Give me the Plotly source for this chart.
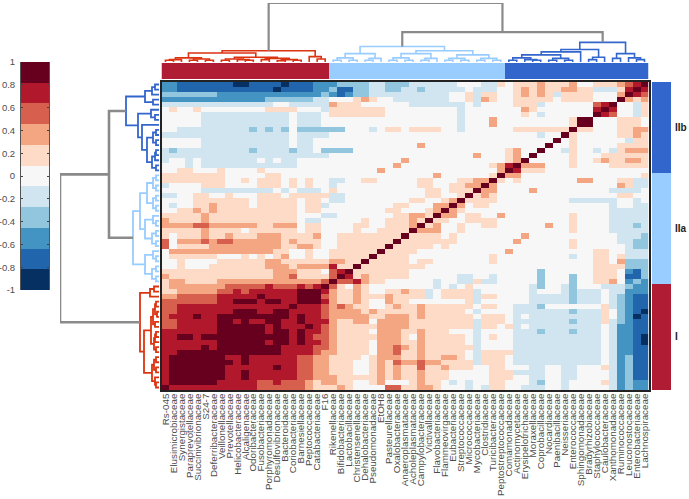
import plotly.graph_objects as go

W, H = 689, 499

FAMILIES = ["Rs-045","Elusimicrobiaceae","Synergistaceae","Paraprevotellaceae","Succinivibrionaceae","S24-7",
"Deferribacteraceae","Veillonellaceae","Prevotellaceae","Helicobacteraceae","Alcaligenaceae","Odoribacteraceae",
"Fusobacteriaceae","Porphyromonadaceae","Desulfovibrionaceae","Bacteroidaceae","Coriobacteriaceae","Barnesiellaceae",
"Peptococcaceae","Catabacteriaceae","F16","Rikenellaceae","Bifidobacteriaceae","Lactobacillaceae","Christensenellaceae",
"Dehalobacteriaceae","Pseudomonadaceae","EtOH8","Pasteurellaceae","Oxalobacteraceae","Anaeroplasmataceae",
"Acholeplasmataceae","Campylobacteraceae","Victivallaceae","Flavobacteriaceae","Flammeovirgaceae","Eubacteriaceae",
"Streptococcaceae","Micrococcaceae","Mycobacteriaceae","Clostridiaceae","Turicibacteraceae","Peptostreptococcaceae",
"Comamonadaceae","Actinomycetaceae","Erysipelotrichaceae","Moraxellaceae","Coprobacillaceae","Nocardiaceae",
"Paenibacillaceae","Neisseriaceae","Enterococcaceae","Sphingomonadaceae","Bradyrhizobiaceae","Staphylococcaceae",
"Caulobacteraceae","Xanthomonadaceae","Ruminococcaceae","Leuconostocaceae","Enterobacteriaceae","Lachnospiraceae"]

# colour-bin level per cell of the lower-left triangle (0..9, X=10), top row of the picture first
LEVEL_ROWS = [
"22 1111111 00 1111 0 111 222 3333 44 333 444444 555 44 6 5 666 7 666 7 55 666 7 8 9",
"22 111111111111 0 1111 22 3 11 33 44 33 44 3 44444 54 44 5 5 6 7 6 7 66 77 66 444 6 9",
"3333333 2222222222222 3 2 1 2 33 4444444444 55 6 4 66 5 5 6 7 6 7 6 4 6666 555 7",
"2222222222222 333333 44 555 676 55 4 444444 55 6 4 5 6 55 66666 5 6666 555",
"44444444444444 55 44444 7 666 55 5555 4444444 5 4 55 5 5 6664 555555 89",
"5 6 55 6 55555555 6666 555 4 6666666 555555555 4 555555 5 7 6 5555555 9",
"55555 44444444444 5 444 5 6666666 555555555 4 5555555 6 5 4 555555",
"55555 44444444444 5 444 5 5555555555555555 4 5555555555555 6 X",
"55555 44444444444 5 444 5 5555555555555555 4 5555555555555 6",
"55 444444444 3 4 3 4 3 5 333333 555 4 5 66 5 6666 55 4 555555 6666666",
"4444444444444444 5 4444 5555555555 5555555555 555555 4 55",
"55555 44444444444 5 44 55 5555555555 5555555555 55555555",
"55555 44444444444 5 44 55 5555555555 5555555555 5555555",
"4 3 444444444 3 4444 3 44 5 3333 5555555555 555555555 6 7 55",
"4444444444 4444444444 4 5555555555 5555555555 55 6 7 5",
"4 55 4 5 4444444 5 4 5 44 5555 5555555555 5555555555 55 6 7",
"55545 444444444444 5555 5555555555 5555555555 6 7 9",
"55 66 555 6 5555 6 5555555555 5555555555 555555555 7",
"66666666 55555 66 5555555555 5555555555 555555 6",
"66666666 55 6 5 666 5 6 5 6 55 44 55665555566555 6677",
"4 5555 666 5555 666 5 6 5 6 55 4 5555555555 66 55 66 77",
"55555 444444444 5 4 5 444 5 6 55555555555 66 5 666",
"44 55 66 55 6 555 666 5 66666 44 5555555555 66 5 5 6 6 6",
"5555 6666666 5 66666 5 66 5 44 55555555 66 55 6 7",
"5 4 55 66 7 6666 5 66666 5 66 4 5 5555555 66 555 77",
"55 66 7 6 7 6666666666 5 66 5 5 5555556655567",
"66666 7 66666666666 5 55 44 555555566776",
"7 6666 7 66666666666 5 44 55 55565566676",
"7777 88 777777 66 777 5 66 55 5566556667",
"66666 7 6666 5 666666 5 66 55 556556666",
"6 5 666 7 66 7 666 777 6666 7 55 66666666",
"8 5 777 8 7 88 777777 6 7 666 55 6666666",
"8 5 6666 777777777 66 77 6 55 666666",
"5 7777777777777 66 55 6 55 666666",
"5 666666 555 6 5 6 5 6 7 55 6 55 66666",
"55 6 5555 666666 77 66 6666 77 66",
"55 6 555 6666666 777 6 7777 9 6 6",
"66666666666666 777 666 5 8 9",
"7 666666 6666666 77 8 6666 8",
"6 77 6666 777777 7777 777 8",
"6 7777777 88888 9 888 9 8 9",
"66 77777 88 9 89 9 9999 XX",
"77 88888 99 999 X 9999 X",
"88 88888 99 XXX 9 XX 99",
"88 9999999 9999999",
"88 9999999 XXX 99 X",
"8 999 X 99 XXXXXXX",
"88 99999 XX 9 X 99",
"88 99999 XXXXX",
"9999999 XXXX",
"99 XX 9 XX XXX",
"9999999 XX",
"99999 X 9 X",
"99 XXXXX",
"9 XXXXX",
"9 XXXX",
"9 XXX",
"9 XX",
"9 X",
"9",
"",
]
# isolated stronger cells: (row, column, level)
SPOT_CELLS = [(53,41,7),(52,41,7),(57,40,7),(46,39,7),(48,32,7),(45,30,7),(44,29,7),(43,27,7),(42,34,7)]

# merge trees: [merge height, child, child]; a plain number is a family's index
CLUSTER_I = [19,
    [15,
        [7, [4, [3, 0, 1], 2], [5, [3, 3, 4], [3, 5, 6]]],
        [8, [5, [3, 7, 8], [4, 9, [3, 10, 11]]], [6, [4, 12, 13], [4, [2, 14, 15], [3, 16, 17]]]]],
    [9, 18, [5, 19, 20]]]
CLUSTER_IIA = [26,
    [14, [7, [3, 21, 22], [3, 23, 24]], [6, [3, 25, 26], 27]],
    [19,
        [14, [7, [3, 28, 29], [3, 30, 31]], [6, [3, 32, 33], 34]],
        [12, [6, [3, 35, 36], [3, 37, 38]], [6, [3, 39, 40], [3, 41, 42]]]]]
CLUSTER_IIB = [33,
    [21,
        [17, [12, [7, [3, 43, 44], [4, 45, [3, 46, 47]]], [6, [3, 48, 49], [3, 50, 51]]], 52],
        [8, [4, 53, 54], 55]],
    [14, [6, 56, 57], [7, 58, [4, 59, 60]]]]
II_HEIGHT = 50
ROOT_HEIGHT = 99
CLUSTER_SIZES = [21, 22, 18]
CLUSTER_NAMES = ["I", "IIa", "IIb"]

TICK_VALUES = [1, 0.8, 0.6, 0.4, 0.2, 0, -0.2, -0.4, -0.6, -0.8, -1]

PALETTE = ["#053061","#2166ac","#4393c3","#92c5de","#d1e5f0","#f7f7f7","#fddbc7","#f4a582","#d6604d","#b2182b","#67001f"]
CL_BAR = ["#b01c33", "#99ccff", "#3366cc"]
CL_LINE = ["#dc3310", "#99ccff", "#3366cc"]
GREY = "#8a8a8a"
TEXT = "#4d4d4d"
FONT = "Liberation Sans, Arial, sans-serif"

n = len(FAMILIES)
nb = len(PALETTE)
def level_value(k):
    return -1 + (k + 0.5) * 2 / nb

levels = [[5] * n for _ in range(n)]
for i, s in enumerate(LEVEL_ROWS):
    r = n - 1 - i
    s = s.replace(" ", "")
    s = (s + "5" * n)[:r]
    for c, ch in enumerate(s):
        v = 10 if ch == "X" else int(ch)
        levels[r][c] = v
        levels[c][r] = v
    levels[r][r] = 10
for r, c, v in SPOT_CELLS:
    levels[r][c] = v
    levels[c][r] = v
z = [[level_value(v) for v in row] for row in levels]

def step_scale(colors):
    m = len(colors)
    out = []
    for i, col in enumerate(colors):
        out += [[i / m, col], [(i + 1) / m, col]]
    return out

def dx(a, b):
    return [a / W, b / W]
def dy(top, bottom):
    return [(H - bottom) / H, (H - top) / H]

def walk(node, pos_out, h_out):
    """Lay out a merge tree; returns (leaf-axis position, height)."""
    if not isinstance(node, list):
        return float(node), 0.0
    h, a, b = node
    pa, ha = walk(a, pos_out, h_out)
    pb, hb = walk(b, pos_out, h_out)
    pos_out += [pa, pa, pb, pb, None]
    h_out += [ha, h, h, hb, None]
    return (pa + pb) / 2, float(h)

fig = go.Figure()

fig.add_trace(go.Heatmap(z=z, x=list(range(n)), y=list(range(n)), zmin=-1, zmax=1, colorscale=step_scale(PALETTE),
                         showscale=False, xaxis="x", yaxis="y", hoverinfo="skip"))

cluster_ids = []
for i, size in enumerate(CLUSTER_SIZES):
    cluster_ids += [i] * size
fig.add_trace(go.Heatmap(z=[cluster_ids], x=list(range(n)), y=[0], zmin=0, zmax=2, colorscale=step_scale(CL_BAR),
                         showscale=False, xaxis="x", yaxis="y2", hoverinfo="skip"))
fig.add_trace(go.Heatmap(z=[[c] for c in cluster_ids], x=[0], y=list(range(n)), zmin=0, zmax=2,
                         colorscale=step_scale(CL_BAR), showscale=False, xaxis="x3", yaxis="y", hoverinfo="skip"))

bar_centres = [level_value(k) for k in range(nb)]
fig.add_trace(go.Heatmap(z=[[v] for v in bar_centres], x=[0], y=bar_centres, zmin=-1, zmax=1,
                         colorscale=step_scale(PALETTE), showscale=False, xaxis="x4", yaxis="y4", hoverinfo="skip"))

# dendrograms
centres = []
for tree, col in zip([CLUSTER_I, CLUSTER_IIA, CLUSTER_IIB], CL_LINE):
    p, h = [], []
    centres.append(walk(tree, p, h))
    fig.add_trace(go.Scatter(x=p, y=h, mode="lines", line=dict(color=col, width=1.6), xaxis="x", yaxis="y3",
                             hoverinfo="skip", cliponaxis=False))
    fig.add_trace(go.Scatter(x=h, y=p, mode="lines", line=dict(color=col, width=1.8), xaxis="x2", yaxis="y",
                             hoverinfo="skip", cliponaxis=False))
p, h = [], []
(p1, h1), (p2, h2), (p3, h3) = centres
p += [p2, p2, p3, p3, None]
h += [h2, II_HEIGHT, II_HEIGHT, h3, None]
pm = (p2 + p3) / 2
p += [p1, p1, pm, pm, None]
h += [h1, ROOT_HEIGHT, ROOT_HEIGHT, II_HEIGHT, None]
fig.add_trace(go.Scatter(x=p, y=h, mode="lines", line=dict(color=GREY, width=2.2), xaxis="x", yaxis="y3",
                         hoverinfo="skip", cliponaxis=False))
fig.add_trace(go.Scatter(x=h, y=p, mode="lines", line=dict(color=GREY, width=2.6), xaxis="x2", yaxis="y",
                         hoverinfo="skip", cliponaxis=False))

# cluster names beside the row bar
start = 0
annotations = []
for name, size in zip(CLUSTER_NAMES, CLUSTER_SIZES):
    annotations.append(dict(x=673 / W, xref="paper", y=start + (size - 1) / 2, yref="y", text=f"<b>{name}</b>",
                            showarrow=False, xanchor="left", yanchor="middle",
                            font=dict(family=FONT, size=10, color="#222222")))
    start += size

hidden = dict(showticklabels=False, ticks="", showgrid=False, zeroline=False, showline=False)
cell_range = [-0.5, n - 0.5]
fig.update_layout(
    width=W, height=H, margin=dict(l=0, r=0, t=0, b=0, pad=0, autoexpand=False), autosize=False, showlegend=False,
    paper_bgcolor="white", plot_bgcolor="white", annotations=annotations,
    font=dict(family=FONT),
    xaxis=dict(domain=dx(161.5, 648.5), range=cell_range, anchor="y", tickmode="array",
               tickvals=list(range(n)), ticktext=FAMILIES, tickangle=-90, ticks="", showgrid=False, zeroline=False,
               tickfont=dict(family=FONT, size=9.8, color=TEXT), ticklabelstandoff=-2,
               showline=True, linecolor="#222222", linewidth=1.5, mirror=True),
    yaxis=dict(domain=dy(82, 390), range=cell_range, anchor="x", showticklabels=False, ticks="", showgrid=False,
               zeroline=False, showline=True, linecolor="#222222", linewidth=1.5, mirror=True),
    yaxis2=dict(domain=dy(63, 79), range=[-0.5, 0.5], anchor="x", **hidden),
    yaxis3=dict(domain=dy(3, 62), range=[0, ROOT_HEIGHT], anchor="x", **hidden),
    xaxis2=dict(domain=dx(60, 159), range=[ROOT_HEIGHT, 0], anchor="y", **hidden),
    xaxis3=dict(domain=dx(652, 671), range=[-0.5, 0.5], anchor="y", **hidden),
    xaxis4=dict(domain=dx(21, 49), range=[-0.5, 0.5], anchor="y4", showticklabels=False, ticks="", showgrid=False,
                zeroline=False, showline=False),
    yaxis4=dict(domain=dy(62, 290), range=[-1, 1], anchor="x4", tickmode="array", tickvals=TICK_VALUES,
                ticktext=[f"{v:g}" for v in TICK_VALUES], ticks="inside", ticklen=2, tickcolor="#444444", tickwidth=1,
                tickfont=dict(family=FONT, size=9.5, color=TEXT), showgrid=False, zeroline=False,
                showline=True, linecolor="#555555", linewidth=1, mirror="ticks", ticklabelstandoff=3),
)

fig.write_html("out.html", config=dict(displayModeBar=False), post_script="document.body.style.margin='0';")
